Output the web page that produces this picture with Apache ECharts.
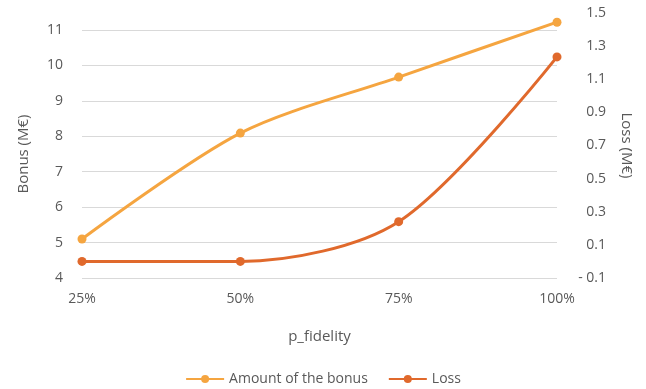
<!DOCTYPE html>
<html>
<head>
<meta charset="utf-8">
<script src="https://cdn.jsdelivr.net/npm/echarts@6/dist/echarts.min.js"></script>
<style>
  html, body { margin: 0; padding: 0; background: #fff; }
  #chart { width: 646px; height: 389px; }
</style>
</head>
<body>
<div id="chart"></div>
<script>
// p_fidelity levels and the two measured series
const categories = ['25%', '50%', '75%', '100%'];
const bonusValues = [5.1, 8.09, 9.67, 11.22];
const lossValues = [0.0, 0.0, 0.24, 1.235];
const bonusTicks = [4, 11];      // left axis range, step 1
const lossTicks = [-0.1, 1.5];   // right axis range, step 0.2

const FONT = '"Open Sans", "Noto Sans", sans-serif';
const GREY = '#595959';
const BONUS_COLOR = '#F5A540';
const LOSS_COLOR = '#E0692C';

const chart = echarts.init(document.getElementById('chart'), null, { renderer: 'canvas' });

chart.setOption({
  backgroundColor: '#ffffff',
  animation: false,
  textStyle: { fontFamily: FONT },
  grid: [
    { left: 82, right: 89, top: 30, height: 248 },
    { left: 82, right: 89, top: 13, height: 265 }
  ],
  legend: {
    top: 367,
    left: 'center',
    itemWidth: 38,
    itemHeight: 10,
    itemGap: 20,
    textStyle: { color: GREY, fontSize: 14, fontFamily: FONT },
    data: ['Amount of the bonus', 'Loss']
  },
  xAxis: [
    {
      gridIndex: 0,
      type: 'category',
      data: categories,
      boundaryGap: false,
      axisLine: { show: false },
      axisTick: { show: false },
      axisLabel: { color: GREY, fontSize: 14, margin: 14 },
      name: 'p_fidelity',
      nameLocation: 'middle',
      nameGap: 51,
      nameTextStyle: { color: GREY, fontSize: 15 }
    },
    {
      gridIndex: 1,
      type: 'category',
      data: categories,
      boundaryGap: false,
      show: false
    }
  ],
  yAxis: [
    {
      gridIndex: 0,
      type: 'value',
      min: bonusTicks[0],
      max: bonusTicks[1],
      interval: 1,
      axisLine: { show: false },
      axisTick: { show: false },
      axisLabel: { color: GREY, fontSize: 14, margin: 19 },
      splitLine: { lineStyle: { color: '#D9D9D9', width: 1 } },
      name: 'Bonus (M€)',
      nameLocation: 'middle',
      nameGap: 51,
      nameTextStyle: { color: GREY, fontSize: 15 }
    },
    {
      gridIndex: 1,
      type: 'value',
      position: 'right',
      min: lossTicks[0],
      max: lossTicks[1],
      interval: 0.2,
      axisLine: { show: false },
      axisTick: { show: false },
      splitLine: { show: false },
      axisLabel: {
        color: GREY,
        fontSize: 14,
        margin: 49,
        align: 'right',
        formatter: v => {
          const r = Math.round(v * 10) / 10;
          return r < 0 ? '- ' + Math.abs(r).toFixed(1) : r.toFixed(1);
        }
      },
      name: 'Loss (M€)',
      nameLocation: 'middle',
      nameGap: 62,
      nameRotate: -90,
      nameTextStyle: { color: GREY, fontSize: 15 }
    }
  ],
  series: [
    {
      name: 'Amount of the bonus',
      type: 'line',
      xAxisIndex: 0,
      yAxisIndex: 0,
      data: bonusValues,
      clip: false,
      smooth: 0.3,
      symbol: 'circle',
      symbolSize: 9,
      itemStyle: { color: BONUS_COLOR },
      lineStyle: { color: BONUS_COLOR, width: 3 }
    },
    {
      name: 'Loss',
      type: 'line',
      xAxisIndex: 1,
      yAxisIndex: 1,
      data: lossValues,
      clip: false,
      smooth: 0.3,
      symbol: 'circle',
      symbolSize: 9,
      itemStyle: { color: LOSS_COLOR },
      lineStyle: { color: LOSS_COLOR, width: 3 }
    }
  ]
});
</script>
</body>
</html>
